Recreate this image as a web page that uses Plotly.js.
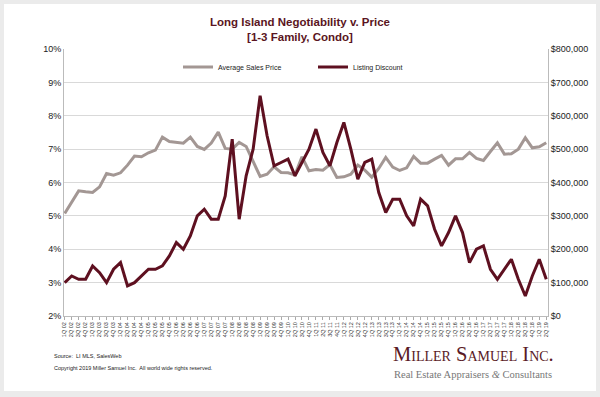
<!DOCTYPE html>
<html><head><meta charset="utf-8">
<script src="https://cdn.plot.ly/plotly-3.0.1.min.js"></script>
<style>
html,body{margin:0;padding:0;background:#ebebeb;overflow:hidden;}
#frame{position:absolute;left:4px;top:4px;width:592px;height:387px;background:#fff;}
#chart{position:absolute;left:0;top:0;width:600px;height:397px;}
</style></head><body>
<div id="frame"></div><div id="chart"></div>
<script>
const quarters = [
  "1Q 02","2Q 02","3Q 02","4Q 02","1Q 03","2Q 03","3Q 03","4Q 03",
  "1Q 04","2Q 04","3Q 04","4Q 04","1Q 05","2Q 05","3Q 05","4Q 05",
  "1Q 06","2Q 06","3Q 06","4Q 06","1Q 07","2Q 07","3Q 07","4Q 07",
  "1Q 08","2Q 08","3Q 08","4Q 08","1Q 09","2Q 09","3Q 09","4Q 09",
  "1Q 10","2Q 10","3Q 10","4Q 10","1Q 11","2Q 11","3Q 11","4Q 11",
  "1Q 12","2Q 12","3Q 12","4Q 12","1Q 13","2Q 13","3Q 13","4Q 13",
  "1Q 14","2Q 14","3Q 14","4Q 14","1Q 15","2Q 15","3Q 15","4Q 15",
  "1Q 16","2Q 16","3Q 16","4Q 16","1Q 17","2Q 17","3Q 17","4Q 17",
  "1Q 18","2Q 18","3Q 18","4Q 18","1Q 19","2Q 19"
];
const avgSalesPrice = [
  307000,342000,375000,372000,370000,387000,427000,422000,
  429000,452000,479000,477000,489000,497000,536000,523000,
  520000,518000,536000,508000,499000,518000,551000,502000,
  500000,520000,508000,462000,418000,425000,447000,430000,
  429000,423000,477000,435000,439000,437000,454000,415000,
  417000,425000,452000,437000,416000,442000,475000,446000,
  436000,444000,478000,458000,458000,470000,481000,452000,
  471000,471000,490000,472000,466000,493000,519000,485000,
  486000,500000,534000,504000,507000,519000
];
const listingDiscount = [
  3.0,3.2,3.1,3.1,3.5,3.3,3.0,3.4,
  3.6,2.9,3.0,3.2,3.4,3.4,3.5,3.8,
  4.2,4.0,4.4,5.0,5.2,4.9,4.9,5.6,
  7.3,4.9,6.2,7.0,8.6,7.4,6.5,6.6,
  6.7,6.2,6.6,7.0,7.6,6.9,6.5,7.2,
  7.8,7.0,6.1,6.6,6.7,5.7,5.1,5.5,
  5.5,5.0,4.7,5.5,5.3,4.6,4.1,4.5,
  5.0,4.5,3.6,4.0,4.1,3.4,3.1,3.4,
  3.7,3.1,2.6,3.2,3.7,3.1
];
const titleText = "Long Island Negotiability v. Price<br>[1-3 Family, Condo]";
const sourceText = "Source:  LI MLS, SalesWeb";
const copyrightText = "Copyright 2019 Miller Samuel Inc.  All world wide rights reserved.";
const logoText = "Miller Samuel Inc.";
const taglineText = "Real Estate Appraisers <i>&</i> Consultants";

const font = "Liberation Sans, Arial, sans-serif";
const serif = "Liberation Serif, Times New Roman, serif";
const L = 64, R = 548, T = 49, B = 316;
const px = x => (x - L) / (R - L);
const py = y => (B - y) / (B - T);

const traces = [
  {x: quarters, y: avgSalesPrice, name: "Average Sales Price", type: "scatter", mode: "lines",
   yaxis: "y", line: {color: "#a39794", width: 3}, hoverinfo: "skip"},
  {x: quarters, y: listingDiscount, name: "Listing Discount", type: "scatter", mode: "lines",
   yaxis: "y2", line: {color: "#5e1020", width: 3}, hoverinfo: "skip"}
];

const layout = {
  width: 600, height: 397,
  paper_bgcolor: "rgba(0,0,0,0)", plot_bgcolor: "rgba(0,0,0,0)",
  margin: {l: L, r: 600 - R, t: T, b: 397 - B},
  font: {family: font, color: "#222"},
  title: {text: titleText, x: 0.5, xanchor: "center", xref: "container",
          y: 1 - 26/397, yanchor: "top", yref: "container",
          font: {family: font, size: 11.5, weight: "bold", color: "#5a1522"}},
  xaxis: {type: "category", range: [-0.1, 69.25], tickangle: -90, tickmode: "linear", tick0: 0, dtick: 1,
          tickfont: {size: 5.5, color: "#333"}, ticks: "outside", ticklen: 3, tickcolor: "#aaa",
          showline: true, linecolor: "#bbb", linewidth: 1, showgrid: false, zeroline: false,
          fixedrange: true},
  yaxis: {side: "right", range: [0, 800000], dtick: 100000, tickprefix: "$", tickformat: ",.0f",
          showgrid: true, gridcolor: "#d9d9d9", gridwidth: 1, zeroline: false,
          showline: true, linecolor: "#bbb", ticks: "", tickfont: {size: 9, color: "#222"}},
  yaxis2: {overlaying: "y", side: "left", range: [2, 10], dtick: 1, ticksuffix: "%",
           showgrid: false, zeroline: false, showline: true, linecolor: "#bbb", ticks: "",
           tickfont: {size: 9, color: "#222"}},
  showlegend: true,
  legend: {orientation: "h", x: px(178), xanchor: "left", y: py(67), yanchor: "middle",
           font: {size: 7, color: "#222"}, bgcolor: "rgba(0,0,0,0)", entrywidth: 90,
           traceorder: "normal"},
  annotations: [
    {text: sourceText, xref: "paper", yref: "paper", x: px(52), y: py(356), xanchor: "left", yanchor: "middle",
     showarrow: false, font: {size: 5.5, color: "#222", family: font}},
    {text: copyrightText, xref: "paper", yref: "paper", x: px(52), y: py(368), xanchor: "left", yanchor: "middle",
     showarrow: false, font: {size: 5.5, color: "#222", family: font}},
    {text: logoText, xref: "paper", yref: "paper", x: px(391), y: py(354), xanchor: "left", yanchor: "middle",
     showarrow: false, font: {size: 20.5, color: "#5a1a26", family: serif, variant: "small-caps"}},
    {text: taglineText, xref: "paper", yref: "paper", x: px(392), y: py(374), xanchor: "left", yanchor: "middle",
     showarrow: false, font: {size: 10.5, color: "#777", family: serif}}
  ]
};
Plotly.newPlot("chart", traces, layout, {displayModeBar: false, staticPlot: true});
</script>
</body></html>
